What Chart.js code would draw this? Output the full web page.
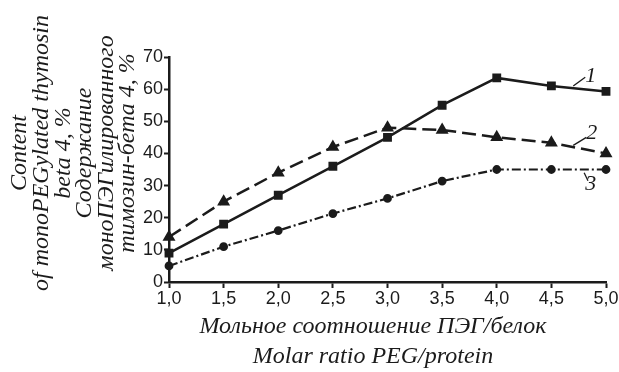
<!DOCTYPE html>
<html>
<head>
<meta charset="utf-8">
<script src="https://cdn.jsdelivr.net/npm/chart.js@4.4.1/dist/chart.umd.min.js"></script>
<style>
  html, body { margin: 0; padding: 0; background: #fff; }
  #wrap { width: 619px; height: 372px; }
</style>
</head>
<body>
<div id="wrap"><canvas id="chart" width="619" height="372"></canvas></div>
<script>
// data
const ratios = ["1,0", "1,5", "2,0", "2,5", "3,0", "3,5", "4,0", "4,5", "5,0"];
const curve1 = [9, 18, 27, 36, 45, 55, 63.5, 61, 59.3];
const curve2 = [14, 25, 34, 42, 48, 47.3, 45, 43.3, 40];
const curve3 = [5, 11, 16, 21.3, 26, 31.4, 35, 35, 35];
const yTitleLines = [
  "Content",
  "of monoPEGylated thymosin",
  "beta 4, %",
  "Содержание",
  "моноПЭГилированного",
  "тимозин-бета 4, %"
];
const xTitleLines = ["Мольное соотношение ПЭГ/белок", "Molar ratio PEG/protein"];
// curve number labels: [text, leader from (x,y), leader to (x,y), text at (x,y)] in data units (x = category index)
const curveLabels = [
  ["1", [7.4, 61.0], [7.62, 63.7], [7.72, 63.9]],
  ["2", [7.4, 42.5], [7.64, 45.0], [7.74, 46.3]],
  ["3", [7.6, 34.0], [7.67, 31.5], [7.72, 30.3]]
];

const INK = "#1b1b1b";
const serif = "'Liberation Serif', 'DejaVu Serif', serif";

const titlesPlugin = {
  id: "titles",
  afterDraw(chart) {
    const ctx = chart.ctx;
    const { x, y } = chart.scales;
    ctx.save();
    ctx.fillStyle = INK;
    ctx.font = "italic 24px " + serif;
    ctx.textAlign = "center";
    ctx.textBaseline = "middle";

    // y title, rotated
    ctx.save();
    ctx.translate(0, 153);
    ctx.rotate(-Math.PI / 2);
    yTitleLines.forEach((t, i) => ctx.fillText(t, 0, 20 + i * 21.6));
    ctx.restore();

    // x title
    xTitleLines.forEach((t, i) => ctx.fillText(t, 373, 327 + i * 30));

    // curve numbers with leader lines
    ctx.strokeStyle = INK;
    ctx.lineWidth = 1.3;
    ctx.font = "italic 22px " + serif;
    curveLabels.forEach(([txt, a, b, p]) => {
      ctx.beginPath();
      ctx.moveTo(x.getPixelForValue(a[0]), y.getPixelForValue(a[1]));
      ctx.lineTo(x.getPixelForValue(b[0]), y.getPixelForValue(b[1]));
      ctx.stroke();
      ctx.fillText(txt, x.getPixelForValue(p[0]), y.getPixelForValue(p[1]));
    });
    ctx.restore();
  }
};

new Chart(document.getElementById("chart"), {
  type: "line",
  data: {
    labels: ratios,
    datasets: [
      {
        data: curve1,
        borderColor: INK, backgroundColor: INK,
        borderWidth: 2.5,
        pointStyle: "rect", pointRadius: 4.5,
        clip: false
      },
      {
        data: curve2,
        borderColor: INK, backgroundColor: INK,
        borderWidth: 2.5, borderDash: [14, 6],
        pointStyle: "triangle", pointRadius: 5,
        clip: false
      },
      {
        data: curve3,
        borderColor: INK, backgroundColor: INK,
        borderWidth: 2.2, borderDash: [9, 3, 2, 3],
        pointStyle: "circle", pointRadius: 3.3,
        clip: false
      }
    ]
  },
  options: {
    responsive: false,
    animation: false,
    layout: { padding: { left: 129, top: 57, right: 13, bottom: 0 } },
    plugins: {
      legend: { display: false },
      tooltip: { enabled: false }
    },
    scales: {
      x: {
        offset: false,
        border: { color: INK, width: 2.5 },
        grid: { drawOnChartArea: false, drawTicks: true, tickLength: 6, tickColor: INK, tickWidth: 2, offset: false },
        ticks: { color: INK, font: { family: "'Liberation Sans', Arial, sans-serif", size: 18 }, padding: 0, maxRotation: 0 },
        afterFit(scale) { scale.height = 90; }
      },
      y: {
        min: 0, max: 70,
        border: { color: INK, width: 2.5 },
        grid: { drawOnChartArea: false, drawTicks: true, tickLength: 5, tickColor: INK, tickWidth: 2 },
        ticks: { stepSize: 10, color: INK, font: { family: "'Liberation Sans', Arial, sans-serif", size: 18 }, padding: 1 },
        afterFit(scale) { scale.width = 40; }
      }
    }
  },
  plugins: [titlesPlugin]
});
</script>
</body>
</html>
